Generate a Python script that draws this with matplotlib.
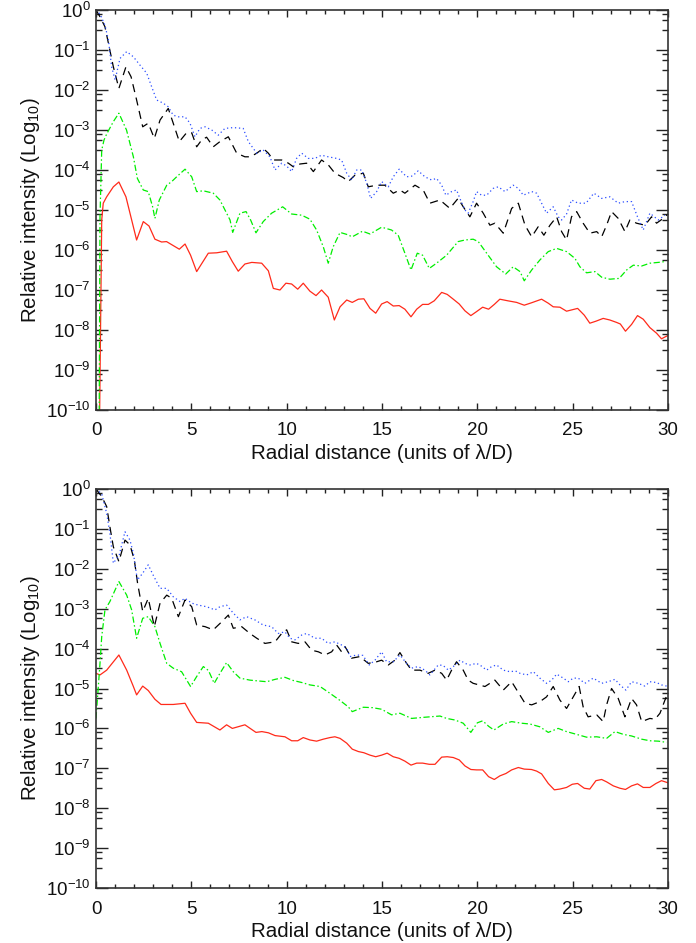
import matplotlib
matplotlib.use("Agg")
import matplotlib.pyplot as plt
import numpy as np
from matplotlib.ticker import FixedLocator, FuncFormatter, MultipleLocator

plt.rcParams['font.family'] = ['Liberation Sans', 'DejaVu Sans']
plt.rcParams['mathtext.fontset'] = 'custom'
plt.rcParams['mathtext.rm'] = 'Liberation Sans'
plt.rcParams['mathtext.it'] = 'Liberation Sans'
plt.rcParams['mathtext.default'] = 'regular'

# ---------------- data: (radial distance, log10 relative intensity) ----------------
top_red = [(0.17,-11),(0.3,-5.25),(0.38,-4.83),(0.56,-4.67),(0.91,-4.42),(1.2,-4.3),(1.57,-4.67),(2.13,-5.75),(2.48,-5.29),(2.78,-5.4),(3.09,-5.73),(3.44,-5.8),(3.7,-5.79),(4.37,-5.98),(4.67,-5.85),(4.96,-6.13),(5.28,-6.54),(5.89,-6.08),(6.33,-6.07),(6.85,-6.03),(7.15,-6.29),(7.46,-6.53),(7.81,-6.35),(8.17,-6.31),(8.69,-6.33),(9.04,-6.52),(9.3,-6.96),(9.65,-7.0),(9.96,-6.83),(10.26,-6.85),(10.58,-6.98),(10.87,-6.83),(11.22,-7.03),(11.54,-7.14),(11.83,-7.0),(12.18,-7.18),(12.5,-7.75),(12.8,-7.42),(13.15,-7.25),(13.44,-7.31),(13.76,-7.23),(14.05,-7.22),(14.37,-7.46),(14.67,-7.58),(14.98,-7.35),(15.27,-7.29),(15.59,-7.4),(15.9,-7.39),(16.2,-7.48),(16.52,-7.67),(16.82,-7.48),(17.13,-7.36),(17.43,-7.36),(17.74,-7.27),(18.13,-7.06),(18.42,-7.11),(18.74,-7.23),(19.05,-7.35),(19.35,-7.52),(19.66,-7.64),(19.96,-7.54),(20.28,-7.43),(20.59,-7.48),(20.89,-7.36),(21.18,-7.23),(21.6,-7.27),(22.06,-7.31),(22.46,-7.38),(22.84,-7.32),(23.37,-7.23),(23.72,-7.33),(23.98,-7.42),(24.33,-7.43),(24.68,-7.53),(25.26,-7.46),(25.61,-7.63),(25.9,-7.83),(26.22,-7.78),(26.6,-7.71),(26.95,-7.75),(27.3,-7.81),(27.5,-7.85),(27.77,-8.03),(28.09,-7.86),(28.4,-7.64),(28.7,-7.73),(29.05,-7.94),(29.4,-8.08),(29.66,-8.22),(29.98,-8.14)]

top_green = [(0.16,-11),(0.21,-5.17),(0.3,-3.5),(0.42,-3.25),(0.56,-3.1),(0.91,-2.79),(1.2,-2.58),(1.6,-3.0),(1.96,-3.67),(2.17,-4.21),(2.48,-4.5),(2.74,-4.54),(2.97,-4.92),(3.09,-5.21),(3.32,-4.75),(3.71,-4.38),(3.97,-4.29),(4.23,-4.17),(4.67,-3.98),(5.02,-4.17),(5.28,-4.54),(5.63,-4.52),(6.15,-4.58),(6.5,-4.75),(7.03,-5.25),(7.17,-5.56),(7.55,-5.08),(7.87,-5.04),(8.11,-5.25),(8.39,-5.57),(8.77,-5.29),(9.21,-5.08),(9.79,-4.92),(10.26,-5.1),(10.79,-5.13),(11.22,-5.23),(11.57,-5.5),(11.92,-5.92),(12.18,-6.33),(12.44,-5.92),(12.8,-5.56),(13.15,-5.61),(13.44,-5.67),(13.98,-5.53),(14.37,-5.6),(14.98,-5.43),(15.5,-5.5),(15.85,-5.63),(16.2,-6.08),(16.52,-6.5),(16.85,-6.08),(17.13,-6.13),(17.48,-6.46),(17.86,-6.33),(18.39,-6.13),(18.99,-5.79),(19.35,-5.75),(19.78,-5.73),(20.05,-5.79),(20.49,-6.08),(21.01,-6.42),(21.49,-6.6),(21.88,-6.42),(22.24,-6.54),(22.46,-6.77),(22.85,-6.5),(23.28,-6.25),(23.72,-6.04),(24.16,-5.96),(24.68,-6.04),(25.12,-6.21),(25.38,-6.42),(25.73,-6.57),(26.17,-6.54),(26.52,-6.68),(26.95,-6.73),(27.44,-6.71),(27.83,-6.5),(28.18,-6.38),(28.62,-6.4),(29.05,-6.33),(29.49,-6.31),(29.84,-6.29)]

top_black = [(0,0),(0.21,-0.17),(0.47,-0.42),(0.65,-0.83),(0.91,-1.42),(1.2,-1.96),(1.57,-1.42),(1.84,-1.67),(2.13,-2.25),(2.45,-2.92),(2.74,-2.83),(3.06,-3.21),(3.36,-2.75),(3.79,-2.46),(4.05,-2.83),(4.37,-3.29),(4.75,-3.07),(5.02,-3.07),(5.28,-3.42),(5.54,-3.25),(5.8,-3.18),(6.15,-3.42),(6.5,-3.29),(6.94,-3.17),(7.38,-3.58),(7.81,-3.67),(8.1,-3.67),(8.43,-3.58),(8.77,-3.46),(9.04,-3.58),(9.3,-3.75),(9.74,-3.75),(10.09,-3.83),(10.35,-3.92),(10.7,-3.85),(11.05,-3.83),(11.4,-4.04),(11.83,-3.75),(12.18,-3.87),(12.53,-4.08),(12.97,-4.19),(13.23,-4.29),(13.58,-4.13),(14.02,-4.08),(14.28,-4.42),(14.72,-4.38),(15.15,-4.38),(15.59,-4.58),(15.94,-4.5),(16.2,-4.58),(16.73,-4.38),(17.16,-4.5),(17.51,-4.83),(18.04,-4.75),(18.56,-4.96),(18.99,-4.71),(19.26,-4.92),(19.61,-5.17),(19.96,-4.83),(20.31,-5.08),(20.66,-5.38),(20.92,-5.33),(21.36,-5.58),(21.8,-4.96),(22.15,-4.83),(22.5,-5.38),(22.85,-5.67),(23.19,-5.42),(23.49,-5.63),(23.81,-5.38),(24.16,-5.17),(24.42,-5.54),(24.68,-5.75),(24.94,-5.17),(25.21,-5.04),(25.55,-5.33),(25.9,-5.58),(26.26,-5.54),(26.52,-5.67),(26.78,-5.38),(27.04,-5.04),(27.39,-5.21),(27.74,-5.54),(28.0,-5.25),(28.35,-5.33),(28.79,-5.38),(29.14,-5.17),(29.4,-5.33),(29.75,-5.21),(30.0,-5.1)]

top_blue = [(0,0),(0.21,-0.1),(0.47,-0.38),(0.65,-0.75),(0.82,-1.42),(1.0,-1.75),(1.26,-1.21),(1.61,-1.04),(1.96,-1.17),(2.31,-1.38),(2.66,-1.58),(2.92,-1.92),(3.18,-2.25),(3.53,-2.33),(3.79,-2.42),(4.05,-2.63),(4.32,-2.67),(4.67,-2.67),(4.93,-2.83),(5.19,-3.17),(5.45,-2.96),(5.72,-2.92),(6.07,-3.0),(6.41,-3.13),(6.76,-2.96),(7.2,-2.94),(7.72,-2.96),(7.99,-3.29),(8.43,-3.58),(8.77,-3.5),(9.12,-3.67),(9.39,-4.0),(9.74,-3.83),(10.0,-3.9),(10.26,-4.04),(10.52,-3.71),(10.79,-3.58),(11.13,-3.71),(11.48,-3.71),(11.83,-3.63),(12.18,-3.67),(12.62,-3.71),(12.88,-3.75),(13.15,-4.08),(13.41,-4.25),(13.67,-4.0),(13.93,-4.0),(14.2,-4.33),(14.4,-4.71),(14.72,-4.54),(14.98,-4.29),(15.33,-4.42),(15.59,-4.17),(15.9,-3.98),(16.29,-4.17),(16.6,-4.15),(16.9,-4.02),(17.25,-4.17),(17.6,-4.25),(17.86,-4.21),(18.13,-4.38),(18.35,-4.63),(18.65,-4.54),(18.91,-4.5),(19.12,-4.75),(19.35,-5.0),(19.52,-5.08),(19.78,-4.79),(19.96,-4.54),(20.22,-4.63),(20.49,-4.63),(20.83,-4.46),(21.1,-4.42),(21.45,-4.54),(21.88,-4.38),(22.15,-4.46),(22.41,-4.63),(22.85,-4.54),(23.11,-4.58),(23.37,-4.83),(23.63,-5.08),(23.98,-4.92),(24.24,-5.17),(24.42,-5.25),(24.68,-5.1),(24.94,-4.75),(25.29,-4.83),(25.7,-4.83),(26.11,-4.58),(26.52,-4.71),(26.95,-4.67),(27.39,-4.83),(27.74,-4.79),(28.09,-4.79),(28.4,-5.17),(28.7,-5.5),(29.05,-5.08),(29.49,-5.25),(29.84,-5.13)]

bot_red = [(0,-4.62),(0.21,-4.66),(0.56,-4.54),(1.2,-4.16),(1.61,-4.54),(1.96,-4.95),(2.13,-5.16),(2.45,-4.94),(2.74,-5.05),(3.09,-5.27),(3.41,-5.4),(4.05,-5.4),(4.67,-5.37),(4.96,-5.62),(5.28,-5.85),(5.89,-5.87),(6.5,-6.04),(6.85,-5.91),(7.15,-6.0),(7.81,-5.91),(8.39,-6.1),(8.7,-6.08),(9.04,-6.11),(9.39,-6.18),(9.91,-6.21),(10.26,-6.31),(10.58,-6.31),(10.87,-6.23),(11.22,-6.29),(11.57,-6.32),(11.92,-6.27),(12.27,-6.23),(12.53,-6.21),(12.8,-6.25),(13.15,-6.37),(13.44,-6.52),(13.76,-6.58),(14.05,-6.61),(14.37,-6.67),(14.67,-6.71),(14.98,-6.67),(15.27,-6.62),(15.59,-6.71),(15.9,-6.75),(16.2,-6.82),(16.52,-6.92),(16.82,-6.87),(17.13,-6.87),(17.48,-6.9),(17.78,-6.9),(18.13,-6.72),(18.42,-6.71),(18.74,-6.73),(19.05,-6.79),(19.35,-6.94),(19.66,-7.03),(19.96,-7.04),(20.28,-7.04),(20.59,-7.21),(20.89,-7.28),(21.18,-7.19),(21.5,-7.13),(21.8,-7.04),(22.15,-6.98),(22.46,-7.02),(22.84,-7.03),(23.11,-7.07),(23.37,-7.14),(23.72,-7.38),(24.04,-7.54),(24.33,-7.52),(24.68,-7.48),(24.98,-7.4),(25.26,-7.38),(25.61,-7.5),(25.9,-7.52),(26.22,-7.31),(26.52,-7.28),(26.78,-7.34),(27.13,-7.44),(27.48,-7.5),(27.77,-7.53),(28.09,-7.44),(28.4,-7.39),(28.7,-7.48),(29.05,-7.48),(29.37,-7.38),(29.66,-7.31),(29.98,-7.36)]

bot_green = [(0,-5.75),(0.21,-4.37),(0.3,-3.7),(0.47,-3.03),(0.73,-2.82),(1.2,-2.32),(1.61,-2.66),(1.87,-3.03),(2.13,-3.74),(2.45,-3.24),(2.74,-3.2),(3.09,-3.45),(3.36,-3.87),(3.71,-4.37),(4.05,-4.49),(4.49,-4.58),(4.96,-4.95),(5.28,-4.7),(5.63,-4.45),(5.9,-4.55),(6.2,-4.87),(6.5,-4.62),(6.85,-4.35),(7.2,-4.58),(7.55,-4.74),(8.07,-4.79),(8.5,-4.81),(8.95,-4.83),(9.4,-4.77),(9.91,-4.72),(10.35,-4.8),(10.79,-4.85),(11.22,-4.91),(11.75,-4.95),(12.27,-5.12),(12.8,-5.3),(13.23,-5.46),(13.44,-5.58),(14.02,-5.47),(14.5,-5.48),(14.98,-5.52),(15.5,-5.66),(15.94,-5.62),(16.55,-5.75),(17.25,-5.72),(18.04,-5.69),(18.39,-5.75),(18.83,-5.79),(19.26,-5.87),(19.66,-6.1),(20.0,-5.86),(20.28,-5.81),(20.6,-5.95),(20.87,-6.04),(21.36,-5.89),(21.8,-5.83),(22.32,-5.87),(22.76,-5.89),(23.28,-5.96),(23.72,-6.1),(24.24,-6.0),(24.68,-6.08),(25.21,-6.15),(25.73,-6.22),(26.26,-6.21),(26.78,-6.25),(27.22,-6.08),(27.66,-6.15),(28.09,-6.19),(28.62,-6.27),(29.05,-6.31),(29.5,-6.32),(29.93,-6.35)]

bot_black = [(0,0),(0.3,-0.19),(0.56,-0.44),(0.73,-0.95),(0.91,-1.45),(1.2,-1.82),(1.52,-1.28),(1.78,-1.4),(2.01,-1.78),(2.18,-2.36),(2.45,-3.07),(2.74,-2.74),(3.06,-3.45),(3.36,-2.86),(3.71,-2.66),(3.97,-2.74),(4.32,-3.2),(4.67,-2.78),(5.02,-2.95),(5.28,-3.41),(5.72,-3.45),(6.15,-3.53),(6.59,-3.33),(6.94,-3.16),(7.2,-3.49),(7.64,-3.45),(8.07,-3.62),(8.43,-3.74),(8.86,-3.87),(9.39,-3.83),(9.74,-3.62),(10.0,-3.53),(10.26,-3.83),(10.61,-3.87),(10.96,-3.83),(11.31,-4.04),(11.66,-4.08),(12.01,-4.16),(12.36,-4.08),(12.62,-3.91),(12.88,-4.08),(13.06,-3.95),(13.41,-4.24),(13.84,-4.2),(14.28,-4.37),(14.72,-4.33),(14.98,-4.29),(15.33,-4.41),(15.68,-4.29),(15.94,-4.1),(16.29,-4.37),(16.55,-4.54),(16.99,-4.54),(17.42,-4.62),(17.78,-4.54),(18.13,-4.62),(18.39,-4.79),(18.65,-4.54),(18.91,-4.33),(19.26,-4.54),(19.52,-4.79),(19.78,-4.87),(20.4,-4.95),(20.92,-4.79),(21.36,-5.04),(21.8,-4.83),(22.15,-5.1),(22.5,-5.37),(22.85,-5.41),(23.28,-5.33),(23.63,-5.21),(23.98,-4.95),(24.33,-5.29),(24.68,-5.5),(25.03,-5.21),(25.34,-4.95),(25.55,-5.46),(25.81,-5.71),(26.26,-5.66),(26.6,-5.83),(26.78,-5.41),(27.04,-5.0),(27.39,-5.25),(27.74,-5.71),(28.09,-5.25),(28.35,-5.41),(28.62,-5.83),(29.05,-5.75),(29.32,-5.77),(29.58,-5.62),(29.84,-5.29),(30.0,-5.1)]

bot_blue = [(0,0),(0.3,-0.12),(0.56,-0.61),(0.73,-1.11),(0.91,-1.86),(1.22,-1.65),(1.52,-1.07),(1.78,-1.28),(1.96,-1.61),(2.17,-2.28),(2.45,-2.11),(2.74,-1.9),(3.0,-2.16),(3.36,-2.49),(3.71,-2.49),(4.05,-2.7),(4.4,-2.82),(4.67,-2.74),(5.02,-2.86),(5.36,-2.91),(5.8,-2.95),(6.24,-3.03),(6.5,-2.95),(6.85,-2.91),(7.2,-3.11),(7.55,-3.28),(7.9,-3.2),(8.33,-3.28),(8.77,-3.41),(9.21,-3.45),(9.56,-3.62),(9.91,-3.58),(10.17,-3.74),(10.44,-3.78),(10.79,-3.66),(11.05,-3.62),(11.48,-3.74),(11.83,-3.74),(12.18,-3.87),(12.53,-3.83),(12.88,-3.91),(13.15,-3.99),(13.32,-4.2),(13.67,-4.16),(14.0,-4.17),(14.33,-4.41),(14.63,-4.29),(14.98,-4.08),(15.24,-4.33),(15.59,-4.33),(15.94,-4.16),(16.29,-4.37),(16.55,-4.49),(16.9,-4.45),(17.25,-4.54),(17.51,-4.66),(17.95,-4.41),(18.2,-4.42),(18.48,-4.54),(18.74,-4.45),(19.09,-4.29),(19.35,-4.37),(19.61,-4.41),(19.96,-4.37),(20.22,-4.44),(20.49,-4.54),(20.75,-4.45),(21.01,-4.41),(21.36,-4.54),(21.71,-4.58),(22.0,-4.56),(22.24,-4.62),(22.59,-4.66),(22.94,-4.58),(23.28,-4.74),(23.63,-4.87),(23.9,-4.79),(24.16,-4.64),(24.51,-4.74),(24.77,-4.83),(25.03,-4.74),(25.29,-4.74),(25.64,-4.87),(26.08,-4.74),(26.52,-4.87),(26.86,-4.83),(27.22,-4.77),(27.48,-4.91),(27.79,-5.04),(28.09,-4.83),(28.44,-4.87),(28.79,-4.94),(29.05,-4.83),(29.4,-4.85),(29.66,-4.91),(29.93,-4.94)]

x_major_ticks = [0, 5, 10, 15, 20, 25, 30]
y_decades = list(range(-10, 1))
xlabel_text = 'Radial distance (units of \u03bb/D)'
ylabel_text = 'Relative intensity (Log$_{10}$)'

# ---------------- styles ----------------
RED = '#ff2a1a'
GREEN = '#00ee00'
BLUE = '#2a4dff'
BLACK = '#000000'
LW = 0.9
styles = {
    'red': dict(color=RED, lw=LW, ls='-'),
    'green': dict(color=GREEN, lw=LW, ls=(0, (5, 2, 1.2, 2))),
    'black': dict(color=BLACK, lw=LW, ls=(0, (6.5, 4.5))),
    'blue': dict(color=BLUE, lw=LW, ls=(0, (1, 2.2))),
}

W, H = 696, 943
fig = plt.figure(figsize=(W / 100, H / 100), dpi=100)

def px_axes(left, top, right, bottom):
    return fig.add_axes([left / W, 1 - bottom / H, (right - left) / W, (bottom - top) / H])

ax_top = px_axes(96, 10, 668, 410)
ax_bot = px_axes(96, 489, 668, 888)

def yfmt(v, pos):
    e = int(round(np.log10(v)))
    return r'$10^{%d}$' % e

minor_subs = [3.2, 5.7, 7.9]
minor_locs = [s * 10.0 ** d for d in range(-11, 1) for s in minor_subs]

def plot_panel(ax, curves):
    for name, data in curves:
        xs = [p[0] for p in data]
        ys = [10.0 ** p[1] for p in data]
        ax.plot(xs, ys, **styles[name])
    ax.set_yscale('log')
    ax.set_xlim(0, 30)
    ax.set_ylim(1e-10, 1.0)
    ax.xaxis.set_major_locator(FixedLocator(x_major_ticks))
    ax.xaxis.set_minor_locator(MultipleLocator(1))
    ax.yaxis.set_major_locator(FixedLocator([10.0 ** d for d in y_decades]))
    ax.yaxis.set_minor_locator(FixedLocator(minor_locs))
    ax.yaxis.set_major_formatter(FuncFormatter(yfmt))
    ax.tick_params(axis='both', which='both', direction='in', top=True, right=True,
                   color='#222222', labelsize=13.5, labelcolor='#111111')
    ax.tick_params(axis='x', which='major', length=5.2, width=1.0, pad=9)
    ax.tick_params(axis='x', which='minor', length=2.6, width=1.0)
    ax.tick_params(axis='y', which='major', length=8.5, width=1.0, pad=4)
    ax.tick_params(axis='y', which='minor', length=4.0, width=1.0)
    for sp in ax.spines.values():
        sp.set_linewidth(1.2)
        sp.set_color('#333333')
    ax.set_xlabel(xlabel_text, fontsize=14.8, color='#111111', labelpad=3)
    ax.set_ylabel(ylabel_text, fontsize=14.8, color='#111111', labelpad=3)

plot_panel(ax_top, [('red', top_red), ('green', top_green), ('black', top_black), ('blue', top_blue)])
plot_panel(ax_bot, [('red', bot_red), ('green', bot_green), ('black', bot_black), ('blue', bot_blue)])

fig.savefig('out.png', dpi=100)
